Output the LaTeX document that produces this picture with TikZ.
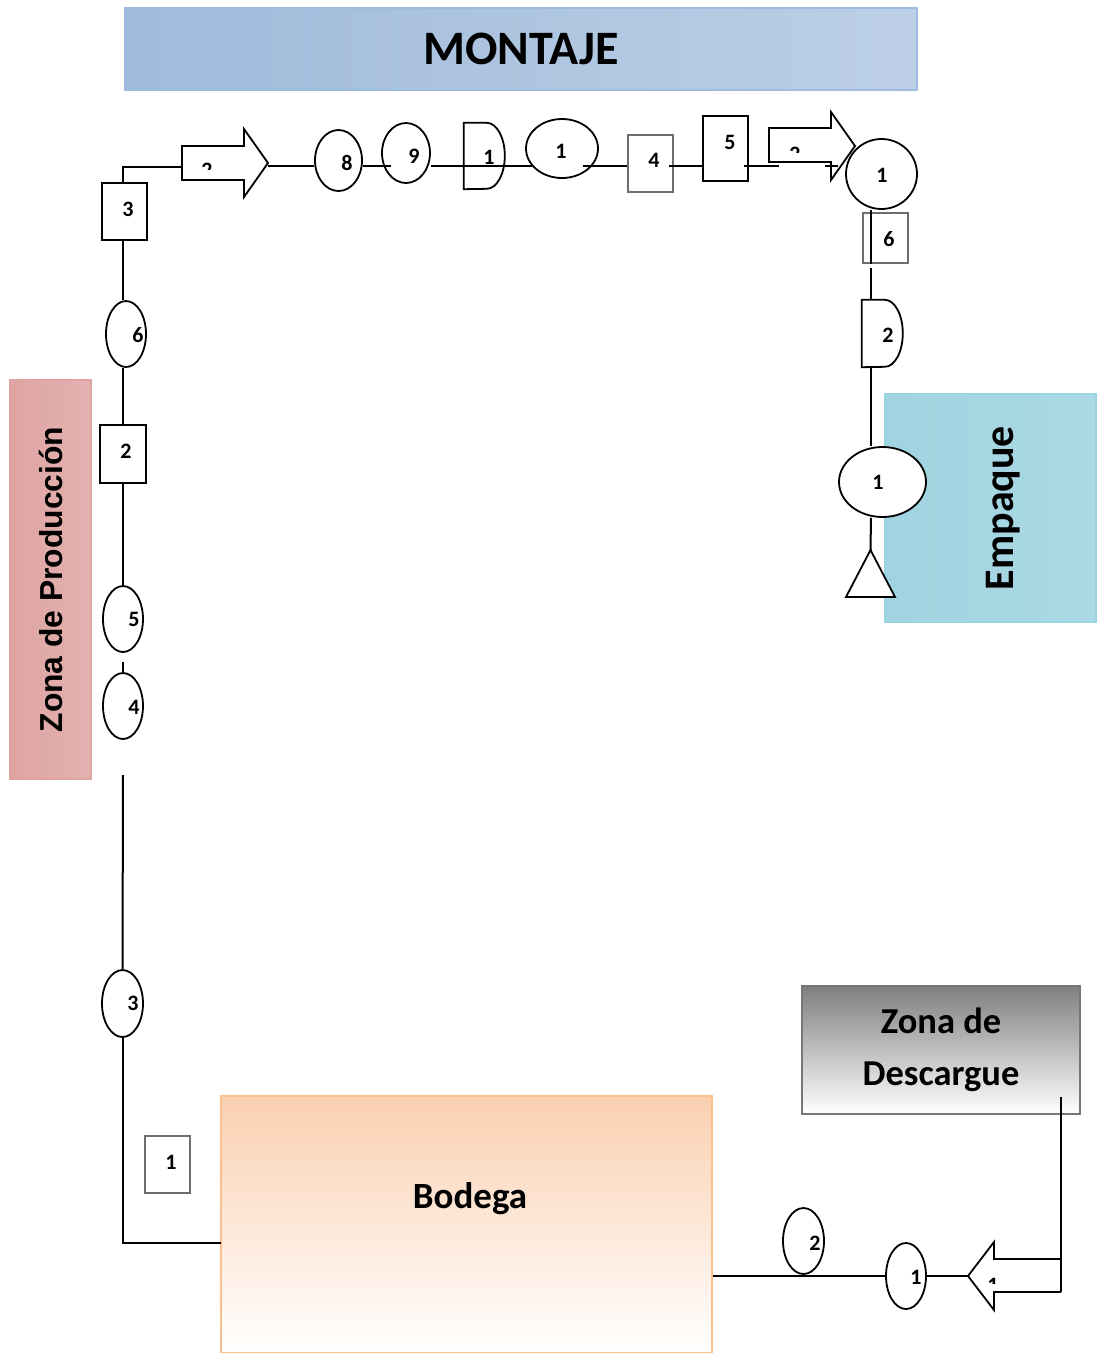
\documentclass[tikz,border=0pt]{standalone}
\usepackage{fontspec}
\setmainfont{Carlito}
\newfontfamily\arialfont{Liberation Sans}
\usetikzlibrary{shapes.geometric}
\definecolor{tblue}{HTML}{95B3D7}
\definecolor{tblueL}{HTML}{DCE6F2}
\definecolor{tblueB}{HTML}{9CBCE2}
\definecolor{pinkD}{HTML}{D99694}
\definecolor{pinkL}{HTML}{F2DCDB}
\definecolor{pinkB}{HTML}{E0A3A2}
\definecolor{tealD}{HTML}{92CDDC}
\definecolor{tealL}{HTML}{DAEEF3}
\definecolor{tealB}{HTML}{9AD3E1}
\definecolor{grayD}{HTML}{7F7F7F}
\definecolor{grayB}{HTML}{777777}
\definecolor{orD}{HTML}{FAD0B0}
\definecolor{orB}{HTML}{FAC090}
\definecolor{boxgray}{HTML}{6E6E6E}
\begin{document}
\begin{tikzpicture}[x=1pt,y=-1pt,
  zone/.style={rectangle, inner sep=0pt, line width=2pt},
  shp/.style={draw, line width=1.8pt, fill=white, inner sep=0pt},
  ell/.style={shp, ellipse},
  bxk/.style={draw=black, line width=1.1pt, fill=white, rectangle, inner sep=0pt},
  bxg/.style={draw=boxgray, line width=1.5pt, fill=white, rectangle, inner sep=0pt},
  dnode/.style={rectangle, inner sep=0pt},
  lb/.style={font=\bfseries\fontsize{22}{22}\selectfont, inner sep=0pt},
  ln/.style={line width=2pt},
  blk/.style={line width=1.8pt, line join=miter}
]
\useasboundingbox[fill=white] (0,0) rectangle (1100,1353);

% zone boxes
\node[zone, draw=tblueB, left color=tblue!85!tblueL, middle color=tblue, right color=tblue!45!tblueL,
  minimum width=792pt, minimum height=82pt, font=\bfseries\fontsize{48}{48}\selectfont]
  (title) at (521,49) {MONTAJE};
\node[zone, draw=pinkB, left color=pinkD!80!pinkL, middle color=pinkD, right color=pinkD!60!pinkL,
  minimum width=81pt, minimum height=399pt]
  (zp) at (50.5,579.5) {\rotatebox{90}{\arialfont\bfseries\fontsize{31.8}{31.8}\selectfont Zona de Producción}};
\node[zone, draw=tealB, left color=tealD!80!tealL, middle color=tealD, right color=tealD!65!tealL,
  minimum width=211pt, minimum height=228pt,
  label={[xshift=12.5pt, rotate=90, font=\bfseries\fontsize{42}{42}\selectfont]center:Empaque}]
  (emp) at (990.5,508) {};
\node[zone, draw=grayB, top color=grayD, bottom color=white,
  minimum width=278pt, minimum height=128pt, align=center,
  font=\bfseries\fontsize{36.5}{52}\selectfont]
  (desc) at (941,1050) {Zona de\\Descargue};
\node[zone, draw=orB, top color=orD, bottom color=white,
  minimum width=491pt, minimum height=257pt,
  label={[xshift=3.5pt, yshift=25.5pt, font=\bfseries\fontsize{37}{37}\selectfont]center:Bodega}]
  (bod) at (466.5,1224.5) {};

% left column
\node[bxk, minimum width=45pt, minimum height=57pt, label={[lb,xshift=3.5pt,yshift=2.5pt]center:3}] (b3) at (124.5,211.5) {};
\node[ell, minimum width=40pt, minimum height=66pt, label={[lb,xshift=12pt,yshift=-1pt]center:6}] (e6) at (126,334) {};
\node[bxk, minimum width=46pt, minimum height=58pt, label={[lb,xshift=3pt,yshift=3pt]center:2}] (b2) at (123,454) {};
\node[ell, minimum width=40pt, minimum height=66pt, label={[lb,xshift=11pt]center:5}] (e5) at (123,619) {};
\node[ell, minimum width=40pt, minimum height=66pt, label={[lb,xshift=11pt,yshift=-1pt]center:4}] (e4) at (123,706) {};
\node[ell, minimum width=41pt, minimum height=67pt, label={[lb,xshift=10.5pt]center:3}] (e3) at (122.5,1003.5) {};
\node[bxg, minimum width=45pt, minimum height=57pt, label={[lb,xshift=3.5pt,yshift=2.5pt]center:1}] (b1) at (167.5,1164.5) {};

% top row
\node[ell, minimum width=47pt, minimum height=61pt, label={[lb,xshift=8.5pt,yshift=-2.5pt]center:8}] (e8) at (338.5,160.5) {};
\node[ell, minimum width=48pt, minimum height=60pt, label={[lb,xshift=8pt,yshift=-3pt]center:9}] (e9) at (406,153) {};
\node[dnode, minimum width=41pt, minimum height=66pt] (d1) at (484.5,156) {};
\draw[blk, fill=white] (d1.north west) -- ++(23,0) arc[start angle=90, end angle=-90, x radius=18pt, y radius=33pt] -- (d1.south west) -- cycle;
\node[lb] (d1l) at (489,157) {1};
\node[ell, minimum width=72pt, minimum height=59pt, label={[lb,xshift=-1pt,yshift=-2.5pt]center:1}] (eL) at (562,148.5) {};
\node[bxg, minimum width=45pt, minimum height=57pt, label={[lb,xshift=3.5pt,yshift=3.5pt]center:4}] (b4) at (650.5,163.5) {};
\node[bxk, minimum width=45pt, minimum height=65pt, label={[lb,xshift=4.5pt,yshift=6.5pt]center:5}] (b5) at (725.5,148.5) {};
\node[ell, minimum width=71pt, minimum height=70pt, label={[lb,xshift=0.5pt,yshift=-1pt]center:1}] (cR) at (881.5,174) {};

% right column
\node[bxg, minimum width=45pt, minimum height=50pt, label={[lb,xshift=3.5pt,yshift=-1pt]center:6}] (b6) at (885.5,238) {};
\node[dnode, minimum width=41pt, minimum height=67pt] (d2) at (882.5,333.5) {};
\draw[blk, fill=white] (d2.north west) -- ++(23,0) arc[start angle=90, end angle=-90, x radius=18pt, y radius=33.5pt] -- (d2.south west) -- cycle;
\node[lb] (d2l) at (888,335) {2};
\node[ell, minimum width=87pt, minimum height=70pt, label={[lb,xshift=-4.5pt]center:1}] (eE) at (882.5,482) {};
\coordinate (tri) at (870.5,550);
\draw[blk, fill=white] (tri) -- ++(24.5,47) -- ++(-49,0) -- cycle;

% bottom right
\node[ell, minimum width=40pt, minimum height=66pt, label={[lb,xshift=10pt,yshift=-1pt]center:1}] (f1) at (906,1276) {};
\node[ell, minimum width=41pt, minimum height=66pt, label={[lb,xshift=11.5pt,yshift=-2pt]center:2}] (f2) at (803.5,1241) {};

% block arrows
\coordinate (a1w) at (182,167);
\coordinate (a1e) at (268,166);
\draw[blk] (182,146) -- (244,146) -- (244,129) -- (268,163) -- (244,197) -- (244,180) -- (182,180) -- cycle;
\draw[blk] (769,128) -- (831,128) -- (831,112) -- (855,146) -- (831,180) -- (831,162) -- (769,162) -- cycle;
\coordinate (a3tip) at (968,1276);
\coordinate (a3r) at (1061,1292);
\draw[blk] (1061,1259) -- (994,1259) -- (994,1242) -- (968,1276) -- (994,1310) -- (994,1292) -- (1061,1292);

% clipped tiny arrow labels
\begin{scope}
\clip (195,150) rectangle (222,169);
\node[lb] (a1l) at (207,170) {2};
\end{scope}
\begin{scope}
\clip (784,140) rectangle (806,152);
\node[lb] (a2l) at (795,154) {2};
\end{scope}
\begin{scope}
\clip (984,1270) rectangle (1002,1283);
\node[lb] (a3l) at (993,1285) {1};
\end{scope}

% connectors
\coordinate (lc) at (123,0);
\coordinate (row) at (0,166);
\coordinate (col) at (871,0);
\coordinate (gA) at (123,662);
\coordinate (gB) at (123,775);
\coordinate (bodL) at (221,1243);
\coordinate (k1) at (391,166);
\coordinate (k3) at (583,166);
\coordinate (k4) at (669,166);
\coordinate (k5) at (744,166);
\coordinate (k6) at (779,166);
\coordinate (k7) at (825,166);
\coordinate (k7e) at (838,166);
\coordinate (k8) at (871,268);
\coordinate (k9) at (1061,1097);

\draw[ln] (lc |- b3.north) |- (a1w);
\draw[ln] (lc |- b3.south) -- (lc |- e6.north);
\draw[ln] (lc |- e6.south) -- (b2.north);
\draw[ln] (b2.south) -- (e5.north);
\draw[ln] (gA) -- (e4.north);
\draw[ln] (gB) -- (e3.north);
\draw[ln] (e3.south) |- (bodL);

\draw[ln] (a1e) -- (e8.west |- row);
\draw[ln] (e8.east |- row) -- (k1);
\draw[ln] (e9.east |- row) -- (d1.east |- row);
\draw[ln] (d1.east |- eL.210) -- (eL.210);
\draw[ln] (k3) -- (b4.west |- k3);
\draw[ln] (k4) -- (b5.west |- k4);
\draw[ln] (k5) -- (k6);
\draw[ln] (k7) -- (k7e);

\draw[ln] (col |- cR.south) -- (col |- b6.south);
\draw[ln] (k8) -- (col |- d2.north);
\draw[ln] (col |- d2.south) -- (col |- eE.north);
\draw[ln] (col |- eE.south) -- (tri);

\draw[ln] (k9) -- (a3r);
\draw[ln] (a3tip) -- (f1.east);
\draw[ln] (f1.west) -- (bod.east |- f1.west);
\end{tikzpicture}
\end{document}
